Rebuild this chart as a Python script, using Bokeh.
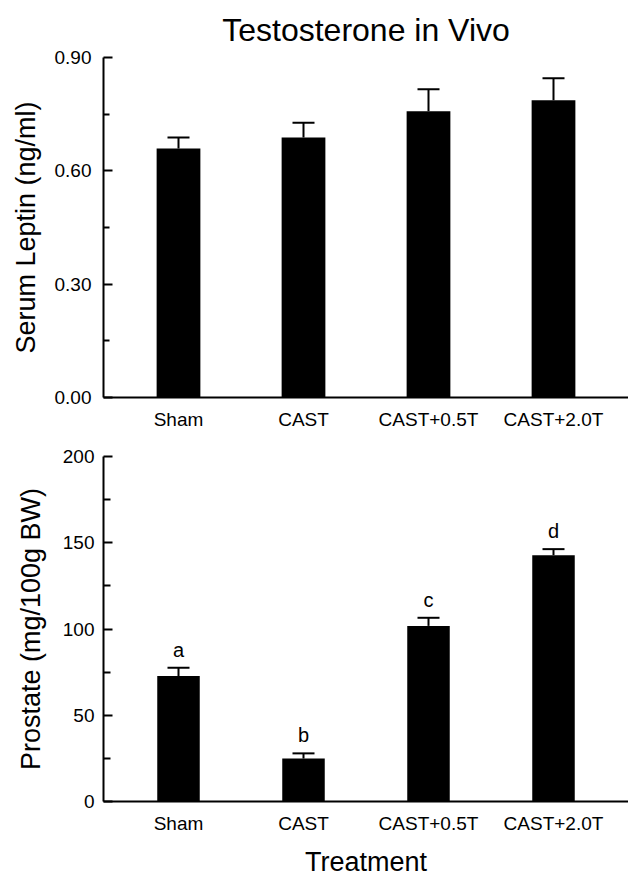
from bokeh.plotting import figure
from bokeh.layouts import column
from bokeh.models import (ColumnDataSource, Range1d, FactorRange, FixedTicker,
                          NumeralTickFormatter, Whisker, TeeHead, LabelSet)
from bokeh.core.properties import value
from bokeh.embed import file_html
from bokeh.resources import INLINE

# ---------------- data ----------------
categories = ["Sham", "CAST", "CAST+0.5T", "CAST+2.0T"]
leptin = [0.659, 0.688, 0.758, 0.787]
leptin_sem = [0.029, 0.039, 0.058, 0.058]
prostate = [72.8, 24.9, 101.8, 142.8]
prostate_sem = [4.8, 3.0, 4.7, 3.5]
prostate_letters = ["a", "b", "c", "d"]
leptin_ticks = [0.0, 0.30, 0.60, 0.90]
leptin_minor = [0.15, 0.45, 0.75]
prostate_ticks = [0, 50, 100, 150, 200]
prostate_minor = [25, 75, 125, 175]

FONT = "Liberation Sans"


def style(p, tick_standoff, label_standoff, major_in, minor_in):
    p.xgrid.visible = False
    p.ygrid.visible = False
    p.outline_line_color = None
    for ax in (p.xaxis, p.yaxis):
        ax.axis_line_color = "black"
        ax.axis_line_width = 2
        ax.major_label_text_font = FONT
        ax.major_label_text_color = "black"
        ax.axis_label_text_font = FONT
        ax.axis_label_text_font_style = "normal"
        ax.axis_label_text_color = "black"
        ax.axis_label_text_font_size = "27px"
    p.xaxis.major_tick_line_color = None
    p.xaxis.minor_tick_line_color = None
    p.xaxis.major_label_text_font_size = "19px"
    p.xaxis.major_label_standoff = 5
    p.yaxis.major_label_text_font_size = "19px"
    p.yaxis.major_tick_in = major_in
    p.yaxis.major_tick_out = 0
    p.yaxis.minor_tick_in = minor_in
    p.yaxis.minor_tick_out = 0
    p.yaxis.major_tick_line_color = "black"
    p.yaxis.minor_tick_line_color = "black"
    p.yaxis.major_tick_line_width = 2
    p.yaxis.minor_tick_line_width = 2
    p.yaxis.major_label_standoff = tick_standoff
    p.yaxis.axis_label_standoff = label_standoff


# ---------------- top panel: serum leptin ----------------
src1 = ColumnDataSource(dict(
    cat=categories, val=leptin,
    upper=[v + e for v, e in zip(leptin, leptin_sem)],
))
p1 = figure(width=628, height=440, output_backend="svg", toolbar_location=None,
            x_range=FactorRange(*categories, range_padding=0.1,
                                range_padding_units="absolute"),
            y_range=Range1d(0, 0.9),
            min_border_left=103, min_border_right=0, min_border_top=54,
            min_border_bottom=43,
            title="Testosterone in Vivo")
p1.title.align = "center"
p1.title.text_font = FONT
p1.title.text_font_size = "32px"
p1.title.text_font_style = "normal"
p1.title.text_color = "black"
p1.title.standoff = 19

p1.vbar(x="cat", top="val", width=0.35, source=src1,
        fill_color="black", line_color=None)
p1.add_layout(Whisker(base="cat", upper="upper", lower="val", source=src1,
                      line_color="black", line_width=2,
                      upper_head=TeeHead(size=22, line_color="black", line_width=2),
                      lower_head=None))
p1.yaxis.ticker = FixedTicker(ticks=leptin_ticks, minor_ticks=leptin_minor)
p1.yaxis.formatter = NumeralTickFormatter(format="0.00")
p1.yaxis.axis_label = "Serum Leptin (ng/ml)"
style(p1, 12, 11, 9, 6)

# ---------------- bottom panel: prostate ----------------
src2 = ColumnDataSource(dict(
    cat=categories, val=prostate,
    upper=[v + e for v, e in zip(prostate, prostate_sem)],
    letter=prostate_letters,
))
p2 = figure(width=628, height=439, output_backend="svg", toolbar_location=None,
            x_range=FactorRange(*categories, range_padding=0.1,
                                range_padding_units="absolute"),
            y_range=Range1d(0, 200),
            min_border_left=99, min_border_right=0, min_border_top=16,
            min_border_bottom=77)
p2.vbar(x="cat", top="val", width=0.34, source=src2,
        fill_color="black", line_color=None)
p2.add_layout(Whisker(base="cat", upper="upper", lower="val", source=src2,
                      line_color="black", line_width=2,
                      upper_head=TeeHead(size=22, line_color="black", line_width=2),
                      lower_head=None))
p2.add_layout(LabelSet(x="cat", y="upper", text="letter", source=src2,
                       y_offset=11, text_align="center",
                       text_baseline="alphabetic", text_font=value(FONT),
                       text_font_size="20px", text_color="black"))
p2.yaxis.ticker = FixedTicker(ticks=prostate_ticks, minor_ticks=prostate_minor)
p2.yaxis.axis_label = "Prostate (mg/100g BW)"
p2.xaxis.axis_label = "Treatment"
style(p2, 9, 14, 9, 7)
p2.xaxis.axis_label_standoff = 10

layout = column(p1, p2, spacing=0)
open("out.html", "w").write(file_html(layout, INLINE))
